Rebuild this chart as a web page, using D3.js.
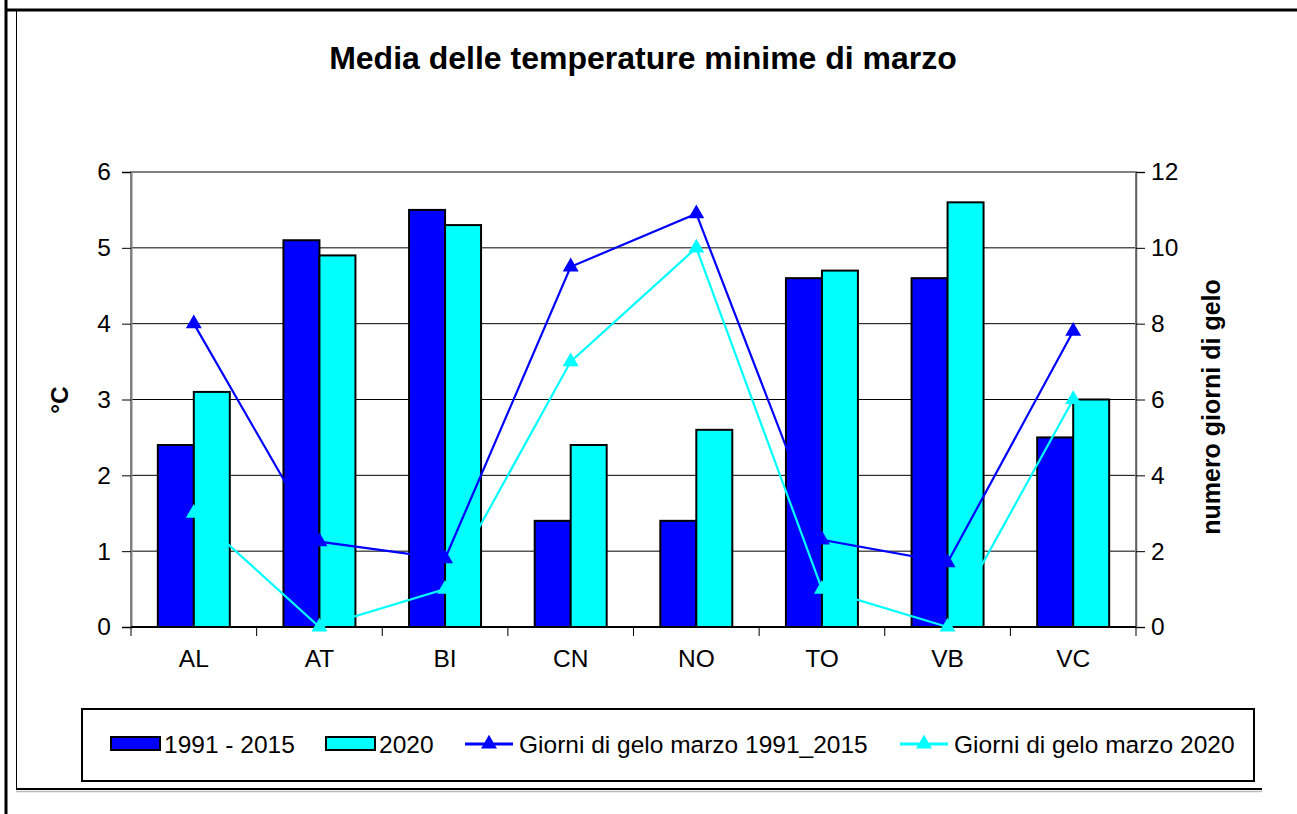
<!DOCTYPE html>
<html>
<head>
<meta charset="utf-8">
<script src="https://cdn.jsdelivr.net/npm/d3@7"></script>
<style>
html,body{margin:0;padding:0;background:#fff;}
svg{display:block;}
text{font-family:"Liberation Sans",Arial,sans-serif;}
</style>
</head>
<body>
<svg id="chart" width="1297" height="814"></svg>
<script>
const categories = ["AL","AT","BI","CN","NO","TO","VB","VC"];
const temp19912015 = [2.4,5.1,5.5,1.4,1.4,4.6,4.6,2.5];
const temp2020 = [3.1,4.9,5.3,2.4,2.6,4.7,5.6,3.0];
const gelo19912015 = [8.0,2.25,1.8,9.5,10.9,2.3,1.7,7.8];
const gelo2020 = [3,0,1,7,10,1,0,6];
const leftTicks = [0,1,2,3,4,5,6];
const rightTicks = [0,2,4,6,8,10,12];
const seriesNames = ["1991 - 2015","2020","Giorni di gelo marzo 1991_2015","Giorni di gelo marzo 2020"];

const DARK = "#0000ff", CYAN = "#00ffff";
const FS = 24.5;
const svg = d3.select("#chart");

// outer frame
svg.append("line").attr("x1",6).attr("x2",6).attr("y1",0).attr("y2",814).attr("stroke","#000").attr("stroke-width",3);
svg.append("line").attr("x1",5).attr("x2",1297).attr("y1",10).attr("y2",10).attr("stroke","#000").attr("stroke-width",3);
svg.append("line").attr("x1",16.5).attr("x2",16.5).attr("y1",11).attr("y2",789).attr("stroke","#000").attr("stroke-width",1);
svg.append("line").attr("x1",16).attr("x2",1262).attr("y1",791.5).attr("y2",791.5).attr("stroke","#bbb").attr("stroke-width",1.5);
svg.append("line").attr("x1",16).attr("x2",1262).attr("y1",789).attr("y2",789).attr("stroke","#000").attr("stroke-width",2);

const L = 131, R = 1136, T = 172, B = 627;
const x0 = d3.scaleBand().domain(categories).range([L,R]).padding(0);
const x1 = d3.scaleBand().domain(["a","b"]).range([0,x0.bandwidth()]).paddingInner(0).paddingOuter(0.745);
const yL = d3.scaleLinear().domain([0,6]).range([B,T]);
const yR = d3.scaleLinear().domain([0,12]).range([B,T]);

// title
svg.append("text").attr("x",643).attr("y",69).attr("text-anchor","middle")
  .attr("font-size",32).attr("font-weight","bold").text("Media delle temperature minime di marzo");

// gridlines
svg.append("g").selectAll("line").data(leftTicks.filter(d=>d>0 && d<6)).join("line")
  .attr("x1",L).attr("x2",R).attr("y1",d=>yL(d)).attr("y2",d=>yL(d))
  .attr("stroke","#000").attr("stroke-width",1);

// plot border
svg.append("rect").attr("x",L).attr("y",T).attr("width",R-L).attr("height",B-T)
  .attr("fill","none").attr("stroke","#808080").attr("stroke-width",2);

// bars
const g = svg.append("g");
categories.forEach((c,i)=>{
  g.append("rect").attr("x",x0(c)+x1("a")).attr("y",yL(temp19912015[i]))
    .attr("width",x1.bandwidth()).attr("height",B-yL(temp19912015[i]))
    .attr("fill",DARK).attr("stroke","#000").attr("stroke-width",2);
  g.append("rect").attr("x",x0(c)+x1("b")).attr("y",yL(temp2020[i]))
    .attr("width",x1.bandwidth()).attr("height",B-yL(temp2020[i]))
    .attr("fill",CYAN).attr("stroke","#000").attr("stroke-width",2);
});

// axes
const leftAxis = d3.axisLeft(yL).tickValues(leftTicks).tickSize(9).tickPadding(11).tickFormat(d3.format("d"));
const gl = svg.append("g").attr("transform",`translate(${L},0)`).call(leftAxis);
gl.select(".domain").attr("stroke","#808080").attr("stroke-width",2);
gl.selectAll(".tick line").attr("stroke","#000");
gl.selectAll(".tick text").attr("font-size",FS).attr("font-family","Liberation Sans, Arial, sans-serif").attr("fill","#000");

const rightAxis = d3.axisRight(yR).tickValues(rightTicks).tickSize(9).tickPadding(6).tickFormat(d3.format("d"));
const gr = svg.append("g").attr("transform",`translate(${R},0)`).call(rightAxis);
gr.select(".domain").attr("stroke","#606060").attr("stroke-width",1.5);
gr.selectAll(".tick line").attr("stroke","#000");
gr.selectAll(".tick text").attr("font-size",FS).attr("font-family","Liberation Sans, Arial, sans-serif").attr("fill","#000");

// bottom axis: ticks at category boundaries
const gb = svg.append("g");
gb.append("line").attr("x1",L).attr("x2",R).attr("y1",B).attr("y2",B).attr("stroke","#000").attr("stroke-width",2);
const bounds = categories.map(c=>x0(c)).concat([R]);
gb.selectAll("line.tk").data(bounds).join("line").attr("class","tk")
  .attr("x1",d=>d).attr("x2",d=>d).attr("y1",B).attr("y2",B+9).attr("stroke","#000").attr("stroke-width",1);
gb.selectAll("text").data(categories).join("text")
  .attr("x",d=>x0(d)+x0.bandwidth()/2).attr("y",667).attr("text-anchor","middle")
  .attr("font-size",FS).text(d=>d);

// axis titles
svg.append("text").attr("transform",`translate(68,400) rotate(-90)`).attr("text-anchor","middle")
  .attr("font-size",FS).attr("font-weight","bold").text("°C");
svg.append("text").attr("transform",`translate(1220,407) rotate(-90)`).attr("text-anchor","middle")
  .attr("font-size",25).attr("font-weight","bold").text("numero giorni di gelo");

// lines
const tri = d3.symbol().type(d3.symbolTriangle).size(110);
function drawLine(vals,color){
  const line = d3.line().x((d,i)=>x0(categories[i])+x0.bandwidth()/2).y(d=>yR(d));
  svg.append("path").datum(vals).attr("d",line).attr("fill","none").attr("stroke",color).attr("stroke-width",2.2);
  svg.append("g").selectAll("path").data(vals).join("path")
    .attr("transform",(d,i)=>`translate(${x0(categories[i])+x0.bandwidth()/2},${yR(d)})`)
    .attr("d",tri).attr("fill",color);
}
drawLine(gelo19912015,DARK);
drawLine(gelo2020,CYAN);

// legend
svg.append("rect").attr("x",82).attr("y",709).attr("width",1172).attr("height",72)
  .attr("fill","none").attr("stroke","#000").attr("stroke-width",2);
const ly = 744;
const lg = svg.append("g");
lg.append("rect").attr("x",111).attr("y",737).attr("width",49).attr("height",13).attr("fill",DARK).attr("stroke","#000").attr("stroke-width",2);
lg.append("text").attr("x",164).attr("y",ly+9).attr("font-size",FS).text(seriesNames[0]);
lg.append("rect").attr("x",326).attr("y",737).attr("width",49).attr("height",13).attr("fill",CYAN).attr("stroke","#000").attr("stroke-width",2);
lg.append("text").attr("x",379).attr("y",ly+9).attr("font-size",FS).text(seriesNames[1]);
lg.append("line").attr("x1",465).attr("x2",513).attr("y1",ly).attr("y2",ly).attr("stroke",DARK).attr("stroke-width",3);
lg.append("path").attr("transform",`translate(489,${ly})`).attr("d",tri).attr("fill",DARK);
lg.append("text").attr("x",519).attr("y",ly+9).attr("font-size",FS).text(seriesNames[2]);
lg.append("line").attr("x1",900).attr("x2",948).attr("y1",ly).attr("y2",ly).attr("stroke",CYAN).attr("stroke-width",3);
lg.append("path").attr("transform",`translate(924,${ly})`).attr("d",tri).attr("fill",CYAN);
lg.append("text").attr("x",954).attr("y",ly+9).attr("font-size",FS).text(seriesNames[3]);
</script>
</body>
</html>
